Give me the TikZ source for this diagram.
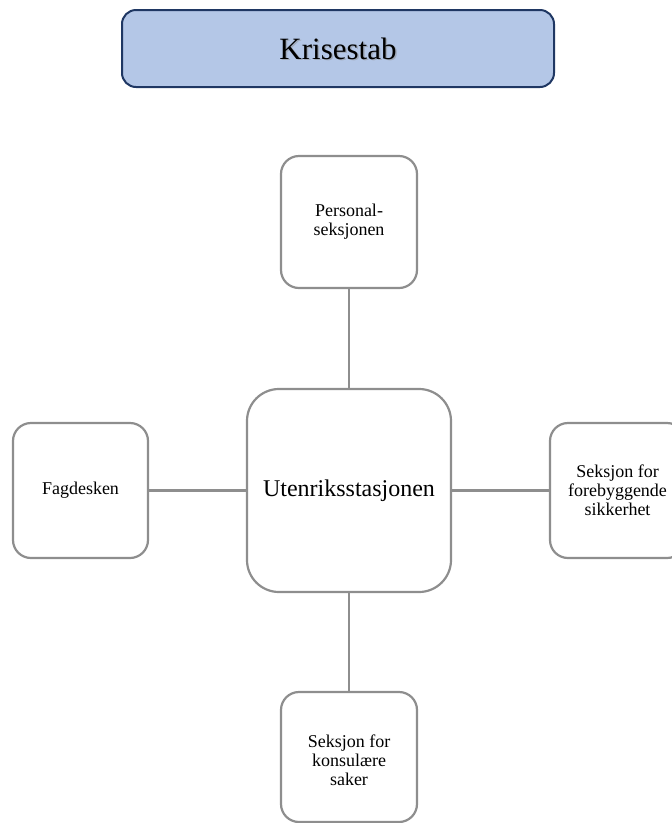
\documentclass[tikz,border=0pt]{standalone}
\usepackage{fontspec}
\setmainfont{Liberation Serif}
\definecolor{unitgray}{HTML}{8E8E8E}
\definecolor{staffnavy}{HTML}{1F3763}
\definecolor{staffblue}{HTML}{B4C7E7}
\begin{document}
\begin{tikzpicture}[x=1pt,y=-1pt,
  unit/.style={draw=unitgray, line width=2.2pt, rounded corners=18pt, fill=white,
    align=center, inner sep=0pt, font=\fontsize{18}{18.8}\selectfont},
  hub/.style={unit, rounded corners=32pt, font=\fontsize{24}{26}\selectfont},
  staffbox/.style={draw=staffnavy, fill=staffblue, line width=2pt, rounded corners=14pt,
    inner sep=0pt},
  stafftext/.style={inner sep=0pt, font=\fontsize{31}{33}\selectfont},
  link/.style={draw=unitgray, line width=2.2pt}]
\useasboundingbox (0,0) rectangle (672,823);

% crisis staff heading
\node[staffbox, minimum width=432pt, minimum height=77pt] (stab) at (338,48.5) {};
\node[stafftext, text=black!45, opacity=0.5] (stabshade) at (339.5,50) {Krisestab};
\node[stafftext] (stabtext) at (stab.center) {Krisestab};

% station and its sections
\node[hub, minimum width=204pt, minimum height=203pt] (hub) at (349,490.5) {Utenriksstasjonen};
\node[unit, minimum width=136pt, minimum height=132pt] (pers) at (349,222) {Personal-\\seksjonen};
\node[unit, minimum width=135pt, minimum height=135pt] (fag) at (80.5,490.5) {Fagdesken};
\node[unit, minimum width=135pt, minimum height=135pt] (fore) at (617.5,490.5) {Seksjon for\\forebyggende\\sikkerhet};
\node[unit, minimum width=136pt, minimum height=130pt] (kons) at (349,757) {};
\node[align=center, inner sep=0pt, font=\fontsize{18}{18.8}\selectfont] (konstext) at (349,760) {Seksjon for\\konsulære\\saker};

\draw[link] (pers) -- (hub);
\draw[link] (hub) -- (kons);
\draw[link] (fag) -- (hub);
\draw[link] (hub) -- (fore);
\end{tikzpicture}
\end{document}
